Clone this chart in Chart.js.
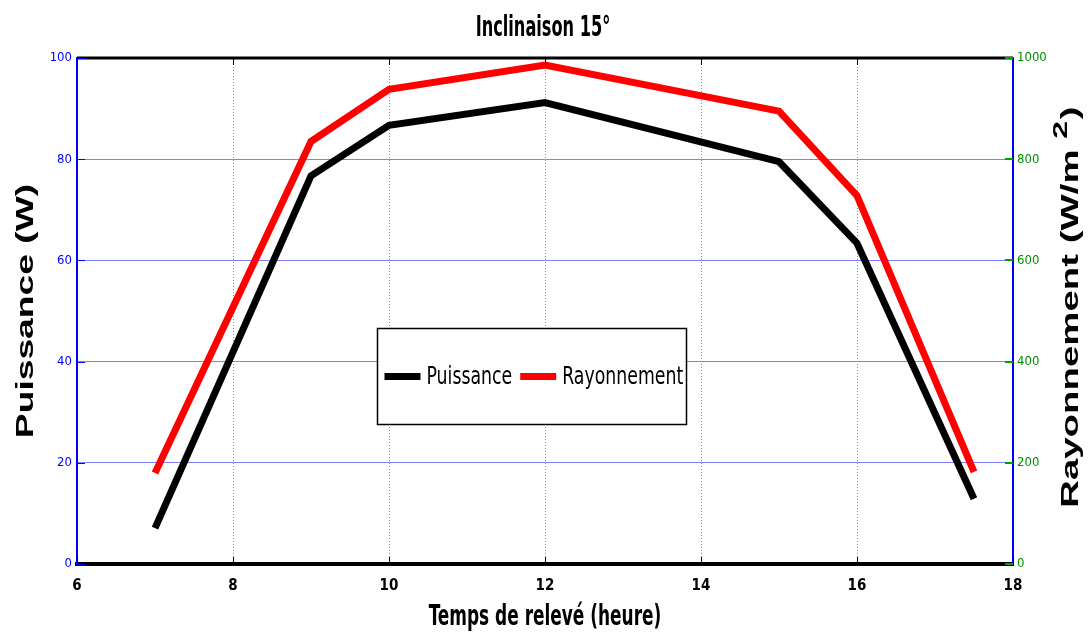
<!DOCTYPE html>
<html>
<head>
<meta charset="utf-8">
<script src="https://cdn.jsdelivr.net/npm/chart.js@4"></script>
<style>
  html, body { margin: 0; padding: 0; background: #fff; }
  #wrap { width: 1090px; height: 634px; }
</style>
</head>
<body>
<div id="wrap"><canvas id="chart" width="1090" height="634"></canvas></div>
<script>
// values
const hours = [7, 9, 10, 12, 15, 16, 17.5];
const puissance = [7.1, 76.7, 86.7, 91.2, 79.5, 63.4, 12.9];      // W
const rayonnement = [180, 835, 938, 986, 895, 728, 182];          // W/m2
const seriesLabels = ['Puissance', 'Rayonnement'];
const chartTitle = 'Inclinaison 15°';
const xTitle = 'Temps de relevé (heure)';
const yTitle = 'Puissance (W)';
const y1Title = 'Rayonnement (W/m ';

const NARROW = '"Liberation Sans Narrow", "Arial Narrow", "DejaVu Sans Condensed", sans-serif';
const WIDE = '"Liberation Sans", Arial, sans-serif';

// squeezed text, the reference fonts are very narrow
function narrowText(ctx, text, x, y, font, sx) {
  ctx.save();
  ctx.translate(x, y);
  ctx.scale(sx, 1);
  ctx.font = font;
  ctx.fillText(text, 0, 0);
  ctx.restore();
}

// frame: black top border + small tick marks
const framePlugin = {
  id: 'frame',
  afterDatasetsDraw(chart) {
    const { ctx, chartArea } = chart;
    const xs = chart.scales.x, ys = chart.scales.y, y1 = chart.scales.y1;
    ctx.save();
    ctx.strokeStyle = '#000';
    ctx.lineWidth = 3;
    ctx.beginPath();
    ctx.moveTo(chartArea.left, chartArea.top);
    ctx.lineTo(chartArea.right, chartArea.top);
    ctx.stroke();

    ctx.lineWidth = 1;
    xs.ticks.forEach(t => {
      const px = Math.round(xs.getPixelForValue(t.value)) + 0.5;
      ctx.beginPath();
      ctx.moveTo(px, chartArea.top);
      ctx.lineTo(px, chartArea.top + 7);
      ctx.moveTo(px, chartArea.bottom);
      ctx.lineTo(px, chartArea.bottom - 7);
      ctx.stroke();
    });
    ctx.strokeStyle = '#0000ff';
    ys.ticks.forEach(t => {
      const py = Math.round(ys.getPixelForValue(t.value)) + 0.5;
      ctx.beginPath();
      ctx.moveTo(chartArea.left, py);
      ctx.lineTo(chartArea.left + 8, py);
      ctx.stroke();
    });
    ctx.strokeStyle = '#00a000';
    ctx.lineWidth = 2;
    y1.ticks.forEach(t => {
      const py = Math.round(y1.getPixelForValue(t.value));
      ctx.beginPath();
      ctx.moveTo(chartArea.right - 8, py);
      ctx.lineTo(chartArea.right, py);
      ctx.stroke();
    });
    ctx.restore();
  }
};

// titles and the boxed legend
const textPlugin = {
  id: 'texts',
  afterDraw(chart) {
    const { ctx, chartArea } = chart;
    const midX = (chartArea.left + chartArea.right) / 2;
    const midY = (chartArea.top + chartArea.bottom) / 2;

    ctx.save();
    ctx.fillStyle = '#000';
    ctx.textAlign = 'center';
    ctx.textBaseline = 'middle';
    narrowText(ctx, chartTitle, 543, 28, 'bold 29px ' + NARROW, 0.62);
    narrowText(ctx, xTitle, midX, 617, 'bold 29px ' + NARROW, 0.65);
    ctx.restore();

    // left title, bottom to top
    ctx.save();
    ctx.translate(26, midY);
    ctx.rotate(-Math.PI / 2);
    ctx.scale(1.55, 1);
    ctx.font = 'bold 24px ' + WIDE;
    ctx.fillStyle = '#000';
    ctx.textAlign = 'center';
    ctx.textBaseline = 'middle';
    ctx.fillText(yTitle, 0, 0);
    ctx.restore();

    // right title with superscript
    ctx.save();
    ctx.translate(1071, midY - 3);
    ctx.rotate(-Math.PI / 2);
    ctx.scale(1.6, 1);
    ctx.fillStyle = '#000';
    ctx.textBaseline = 'middle';
    ctx.textAlign = 'left';
    ctx.font = 'bold 24px ' + WIDE;
    const w1 = ctx.measureText(y1Title).width;
    const w3 = ctx.measureText(')').width;
    ctx.font = 'bold 20px ' + WIDE;
    const w2 = ctx.measureText('2').width;
    const x0 = -(w1 + w2 + w3) / 2;
    ctx.font = 'bold 24px ' + WIDE;
    ctx.fillText(y1Title, x0, 0);
    ctx.font = 'bold 20px ' + WIDE;
    ctx.fillText('2', x0 + w1, -10);
    ctx.font = 'bold 24px ' + WIDE;
    ctx.fillText(')', x0 + w1 + w2 + 1, 0);
    ctx.restore();

    // legend box
    const w = chartArea.right - chartArea.left, h = chartArea.bottom - chartArea.top;
    const bx = Math.round(chartArea.left + 0.3205 * w) + 0.5;
    const by = Math.round(chartArea.top + 0.5336 * h) + 0.5;
    const bw = 309, bh = 96;
    ctx.save();
    ctx.fillStyle = '#fff';
    ctx.fillRect(bx, by, bw, bh);
    ctx.strokeStyle = '#000';
    ctx.lineWidth = 1.5;
    ctx.strokeRect(bx, by, bw, bh);
    const sx = 0.77;
    ctx.font = '25px ' + NARROW;
    ctx.textBaseline = 'middle';
    ctx.textAlign = 'left';
    let cx = bx + 7;
    const cy = by + 48;
    chart.data.datasets.forEach(ds => {
      ctx.strokeStyle = ds.borderColor;
      ctx.lineWidth = 7;
      ctx.beginPath();
      ctx.moveTo(cx, cy);
      ctx.lineTo(cx + 36, cy);
      ctx.stroke();
      cx += 42;
      ctx.fillStyle = '#000';
      narrowText(ctx, ds.label, cx, cy + 1, '25px ' + NARROW, sx);
      cx += ctx.measureText(ds.label).width * sx + 8;
    });
    ctx.restore();
  }
};

const bgPlugin = {
  id: 'bg',
  beforeDraw(chart) {
    const { ctx } = chart;
    ctx.save();
    ctx.fillStyle = '#fff';
    ctx.fillRect(0, 0, chart.width, chart.height);
    ctx.restore();
  }
};

new Chart(document.getElementById('chart'), {
  type: 'line',
  data: {
    datasets: [
      {
        label: seriesLabels[0],
        data: hours.map((h, i) => ({ x: h, y: puissance[i] })),
        borderColor: '#000000',
        backgroundColor: '#000000',
        borderWidth: 7,
        pointRadius: 0,
        tension: 0,
        yAxisID: 'y'
      },
      {
        label: seriesLabels[1],
        data: hours.map((h, i) => ({ x: h, y: rayonnement[i] })),
        borderColor: '#ff0000',
        backgroundColor: '#ff0000',
        borderWidth: 7,
        pointRadius: 0,
        tension: 0,
        yAxisID: 'y1'
      }
    ]
  },
  options: {
    responsive: false,
    animation: false,
    layout: { padding: { top: 58 } },
    plugins: {
      legend: { display: false },
      tooltip: { enabled: false },
      title: { display: false }
    },
    scales: {
      x: {
        type: 'linear',
        min: 6,
        max: 18,
        ticks: { stepSize: 2, color: '#000', font: { family: NARROW, weight: 'bold', size: 15 }, padding: 13 },
        grid: { color: '#8c8c8c', drawTicks: false },
        border: { color: '#000', width: 4, dash: [1, 2] },
        afterFit(s) { s.height = 70; }
      },
      y: {
        position: 'left',
        min: 0,
        max: 100,
        ticks: { stepSize: 20, color: '#0000ff', font: { family: NARROW, size: 13 }, padding: 5 },
        grid: { color: '#7f7fff', drawTicks: false },
        border: { color: '#0000ff', width: 2 },
        afterFit(s) { s.width = 77; }
      },
      y1: {
        position: 'right',
        min: 0,
        max: 1000,
        ticks: { stepSize: 200, color: '#009000', font: { family: NARROW, size: 13 }, padding: 4, callback: v => String(v) },
        grid: { drawOnChartArea: false, drawTicks: false },
        border: { color: '#0000ff', width: 2 },
        afterFit(s) { s.width = 77; }
      }
    }
  },
  plugins: [bgPlugin, framePlugin, textPlugin]
});
</script>
</body>
</html>
